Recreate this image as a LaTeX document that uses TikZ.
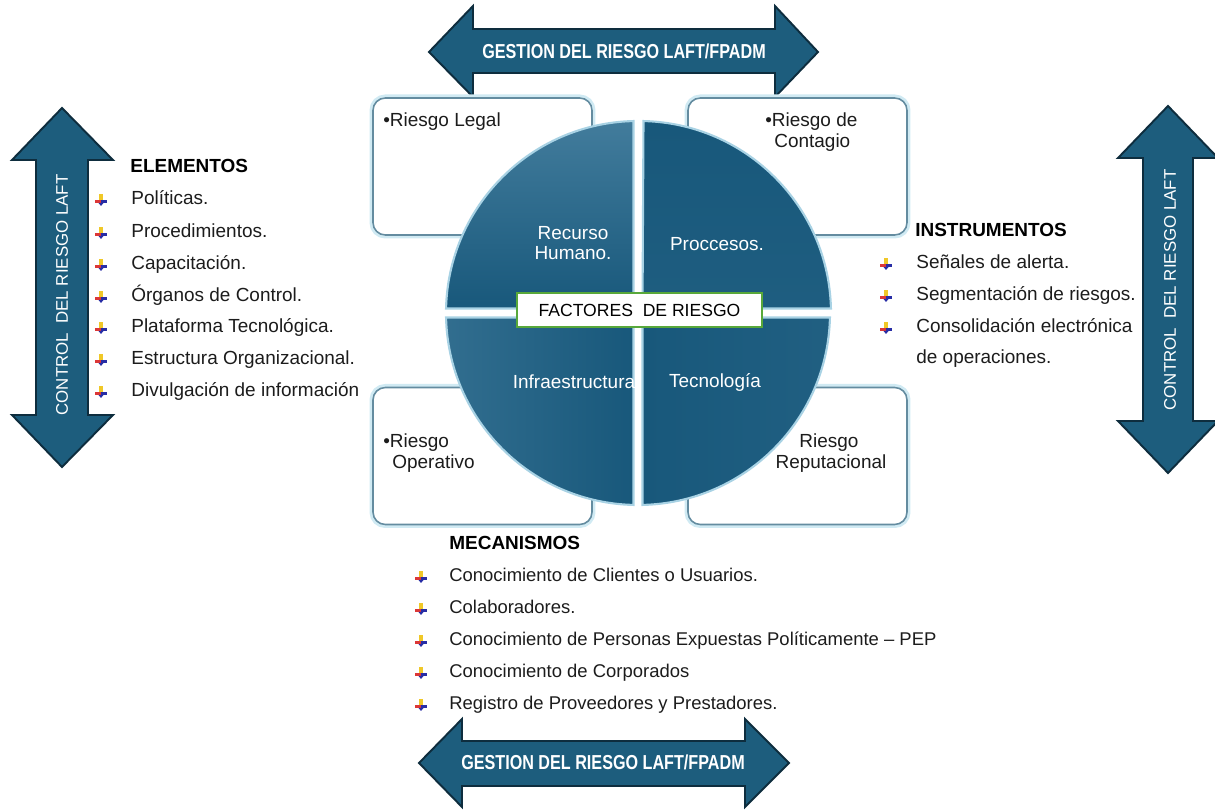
\documentclass[tikz,border=0pt]{standalone}
\usepackage{fontspec}
\setmainfont{Liberation Sans}

\definecolor{arrowfill}{RGB}{29,93,125}
\definecolor{arrowline}{RGB}{14,45,62}
\definecolor{quaddark}{RGB}{24,88,123}
\definecolor{quadlight}{RGB}{66,124,156}
\definecolor{quadrim}{RGB}{168,210,228}
\definecolor{boxline}{RGB}{100,140,160}
\definecolor{boxglow}{RGB}{208,234,243}
\definecolor{factgreen}{RGB}{88,168,58}
\definecolor{textgray}{RGB}{28,28,28}
\definecolor{bulyellow}{RGB}{240,200,40}
\definecolor{bulred}{RGB}{220,55,55}
\definecolor{bulblue}{RGB}{40,45,165}

% small coloured list marker
\tikzset{
    bul/.pic={
        \fill[bulyellow] (-1.6,-6) rectangle (1.6,0);
        \fill[bulred] (-6,0) rectangle (0,3);
        \fill[bulblue] (0,0) rectangle (6,3);
        \fill[bulblue] (-2.5,3) -- (2.5,3) -- (0,6) -- cycle;
    }
}

\begin{document}
\begin{tikzpicture}[
            x=0.02cm, y=-0.02cm,
            every node/.style={
                inner sep=0pt,
                font=\fontsize{10.8}{13}\selectfont
            },
            bigarrow/.style={fill=arrowfill, draw=arrowline, line width=1.1pt, line join=miter},
            arrowtxt/.style={text=white, font=\bfseries\fontsize{11.5}{13}\selectfont},
            sidetxt/.style={text=white, rotate=90, font=\fontsize{9.6}{12}\selectfont},
            riskbox/.style={
                draw=boxline, line width=0.9pt, fill=white, rounded corners=7pt,
                minimum width=4.38cm, minimum height=2.74cm,
                preaction={draw=boxglow, line width=4pt}
            },
            quad/.style={draw=quadrim, line width=1.2pt},
            quadtxt/.style={text=white, align=center, font=\fontsize{10.8}{11}\selectfont},
            factbox/.style={
                draw=factgreen, line width=1.6pt, fill=white,
                minimum width=4.9cm, minimum height=0.68cm,
                font=\fontsize{10}{12}\selectfont
            },
            listitem/.style={anchor=west, text=textgray, text height=8pt, text depth=2.5pt},
            lowitem/.style={listitem, font=\fontsize{10.5}{13}\selectfont},
            listhead/.style={listitem, text=black, font=\bfseries\fontsize{10.8}{13}\selectfont}
        ]
            \useasboundingbox (0,0) rectangle (1215,810);

            % big arrows
            \draw[bigarrow] (429,52) -- (473,6) -- (473,29) -- (775,29) -- (775,6) -- (818,52)
                -- (775,97) -- (775,73) -- (473,73) -- (473,97) -- cycle;
            \node[arrowtxt] (gestop) at (624,51) {\scalebox{0.8}[1]{GESTION DEL RIESGO LAFT/FPADM}};

            \draw[bigarrow] (419,763) -- (462,719) -- (462,741) -- (745,741) -- (745,719) -- (789,763)
                -- (745,807) -- (745,786) -- (462,786) -- (462,807) -- cycle;
            \node[arrowtxt] (gestbot) at (603,762) {\scalebox{0.8}[1]{GESTION DEL RIESGO LAFT/FPADM}};

            \draw[bigarrow] (62,108) -- (113,160) -- (88,160) -- (88,415) -- (113,415) -- (62,467)
                -- (12,415) -- (36,415) -- (36,160) -- (12,160) -- cycle;
            \node[sidetxt] (ctrlleft) at (62,295) {CONTROL\ \ DEL RIESGO LAFT};

            \draw[bigarrow] (1168,106) -- (1218,158) -- (1193,158) -- (1193,421) -- (1218,421) -- (1168,473)
                -- (1118,421) -- (1143,421) -- (1143,158) -- (1118,158) -- cycle;
            \node[sidetxt] (ctrlright) at (1170,290) {CONTROL\ \ DEL RIESGO LAFT};

            % risk boxes
            \node[riskbox] (legal) at (482.5,166.5) {};
            \node[riskbox] (contagio) at (797.5,166.5) {};
            \node[riskbox] (operativo) at (482.5,456) {};
            \node[riskbox] (reputacional) at (797.5,456) {};

            \node[listitem] (legaltxt) at (383,122) {•Riesgo Legal};
            \node[listitem] (contagioa) at (765,122) {•Riesgo de};
            \node[listitem] (contagiob) at (774,143) {Contagio};
            \node[listitem] (operativoa) at (383,443) {•Riesgo};
            \node[listitem] (operativob) at (392,464) {Operativo};
            \node[text=textgray] (reputa) at (829,443) {Riesgo};
            \node[text=textgray] (reputb) at (831,464) {Reputacional};

            % factores circle
            \shadedraw[quad, top color=quadlight, bottom color=quaddark]
                (633.5,308.5) -- (633.5,121.05) arc[start angle=268.66, end angle=181.34, radius=192] -- cycle;
            \shadedraw[quad, top color=quaddark, bottom color=quaddark!85!quadlight]
                (642.5,308.5) -- (830.95,308.5) arc[start angle=358.66, end angle=271.34, radius=192] -- cycle;
            \shadedraw[quad, left color=quaddark!40!quadlight, right color=quaddark]
                (633.5,317.5) -- (446.05,317.5) arc[start angle=178.66, end angle=91.34, radius=192] -- cycle;
            \shadedraw[quad, left color=quaddark, right color=quaddark!80!quadlight]
                (642.5,317.5) -- (642.5,504.95) arc[start angle=88.66, end angle=1.34, radius=192] -- cycle;

            \node[quadtxt] (humano) at (573,243) {Recurso\\Humano.};
            \node[quadtxt] (procesos) at (717,244) {Proccesos.};
            \node[quadtxt] (infra) at (574,382) {Infraestructura};
            \node[quadtxt] (tecno) at (715,382) {Tecnología};

            \node[factbox] (factores) at (639.5,310) {FACTORES\ \ DE RIESGO};

            % elementos
            \node[listhead] (elementos) at (130,168) {ELEMENTOS};
            \node[listitem] (pol) at (131,200) {Políticas.};
            \node[listitem] (proc) at (131,233) {Procedimientos.};
            \node[listitem] (capac) at (131,265) {Capacitación.};
            \node[listitem] (organos) at (131,297) {Órganos de Control.};
            \node[listitem] (plataf) at (131,328) {Plataforma Tecnológica.};
            \node[listitem] (estruc) at (131,360) {Estructura Organizacional.};
            \node[listitem] (divulg) at (131,392) {Divulgación de información};
            \pic at (101,200) {bul};
            \pic at (101,233) {bul};
            \pic at (101,265) {bul};
            \pic at (101,297) {bul};
            \pic at (101,328) {bul};
            \pic at (101,360) {bul};
            \pic at (101,392) {bul};

            % instrumentos
            \node[listhead] (instrum) at (915,232) {INSTRUMENTOS};
            \node[listitem] (senales) at (916,264) {Señales de alerta.};
            \node[listitem] (segment) at (916,296) {Segmentación de riesgos.};
            \node[listitem] (consol) at (916,328) {Consolidación electrónica};
            \node[listitem] (operac) at (916,359) {de operaciones.};
            \pic at (886,264) {bul};
            \pic at (886,296) {bul};
            \pic at (886,328) {bul};

            % mecanismos
            \node[listhead] (mecan) at (449,545) {MECANISMOS};
            \node[lowitem] (clientes) at (449,577) {Conocimiento de Clientes o Usuarios.};
            \node[lowitem] (colab) at (449,609) {Colaboradores.};
            \node[lowitem] (pep) at (449,641) {Conocimiento de Personas Expuestas Políticamente – PEP};
            \node[lowitem] (corpor) at (449,673) {Conocimiento de Corporados};
            \node[lowitem] (provee) at (449,705) {Registro de Proveedores y Prestadores.};
            \pic at (421,577) {bul};
            \pic at (421,609) {bul};
            \pic at (421,641) {bul};
            \pic at (421,673) {bul};
            \pic at (421,705) {bul};
        \end{tikzpicture}
\end{document}
